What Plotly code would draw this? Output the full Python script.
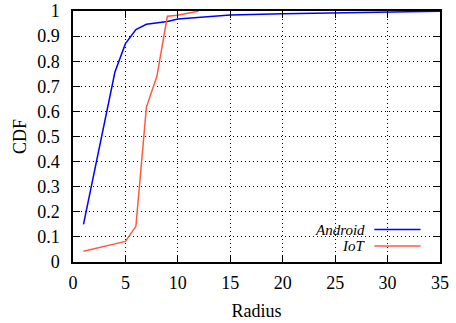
import plotly.graph_objects as go

radius_android = [1, 2, 3, 4, 5, 6, 7, 8, 9, 10, 11, 12, 13, 14, 15, 20, 25, 30, 35]
cdf_android = [0.15, 0.35, 0.55, 0.757, 0.87, 0.926, 0.947, 0.952, 0.958, 0.968, 0.971, 0.973, 0.976, 0.98, 0.984, 0.989, 0.992, 0.995, 0.999]

radius_iot = [1, 2, 3, 4, 5, 6, 7, 8, 9, 10, 11, 12]
cdf_iot = [0.043, 0.053, 0.062, 0.07, 0.082, 0.142, 0.617, 0.74, 0.979, 0.983, 0.993, 1.0]

series_names = ["Android", "IoT"]
series_colors = ["#0000ff", "#ff5a40"]

x_ticks = [0, 5, 10, 15, 20, 25, 30, 35]
y_ticks = [0, 0.1, 0.2, 0.3, 0.4, 0.5, 0.6, 0.7, 0.8, 0.9, 1]
y_tick_text = ["0", "0.1", "0.2", "0.3", "0.4", "0.5", "0.6", "0.7", "0.8", "0.9", "1"]

FONT = "Liberation Serif, Times New Roman, serif"
FS = 18

fig = go.Figure()
fig.add_trace(go.Scatter(x=radius_android, y=cdf_android, mode="lines",
                         line=dict(color=series_colors[0], width=1.5),
                         name=series_names[0], showlegend=False))
fig.add_trace(go.Scatter(x=radius_iot, y=cdf_iot, mode="lines",
                         line=dict(color=series_colors[1], width=1.5),
                         name=series_names[1], showlegend=False))

axis_common = dict(
    showline=True, linecolor="black", linewidth=1.5, mirror="ticks",
    ticks="inside", ticklen=7, tickwidth=1.2, tickcolor="black",
    showgrid=True, gridcolor="black", gridwidth=1, griddash="1px,3px",
    zeroline=False, automargin=False,
    tickfont=dict(family=FONT, size=FS, color="black"),
)

fig.update_xaxes(range=[0, 35], tickvals=x_ticks, **axis_common, ticklabelstandoff=4,
                 title=dict(text="Radius", font=dict(family=FONT, size=FS, color="black"), standoff=12))
fig.update_yaxes(range=[0, 1], tickvals=y_ticks, ticktext=y_tick_text, **axis_common, ticklabelstandoff=8,
                 title=dict(text="CDF", font=dict(family=FONT, size=FS, color="black"), standoff=6))

# legend background box and manual legend (text left, sample right)
fig.add_shape(type="rect", xref="paper", yref="paper", x0=0.62, x1=0.985, y0=0.04, y1=0.185,
              fillcolor="white", line=dict(width=0), layer="between")
legend_y = [0.129, 0.064]
for i, name in enumerate(series_names):
    fig.add_annotation(xref="paper", yref="paper", x=0.798, y=legend_y[i], xanchor="right",
                       yanchor="middle", text="<i>" + name + "</i>", showarrow=False,
                       height=14, borderpad=0,
                       font=dict(family=FONT, size=15, color="black"))
    fig.add_shape(type="line", xref="paper", yref="paper", x0=0.821, x1=0.947,
                  y0=legend_y[i], y1=legend_y[i], line=dict(color=series_colors[i], width=1.5))

fig.update_layout(
    width=456, height=323,
    margin=dict(l=73, r=16, t=11, b=61),
    paper_bgcolor="white", plot_bgcolor="white",
    font=dict(family=FONT, size=FS, color="black"),
)

fig.write_html("out.html")
